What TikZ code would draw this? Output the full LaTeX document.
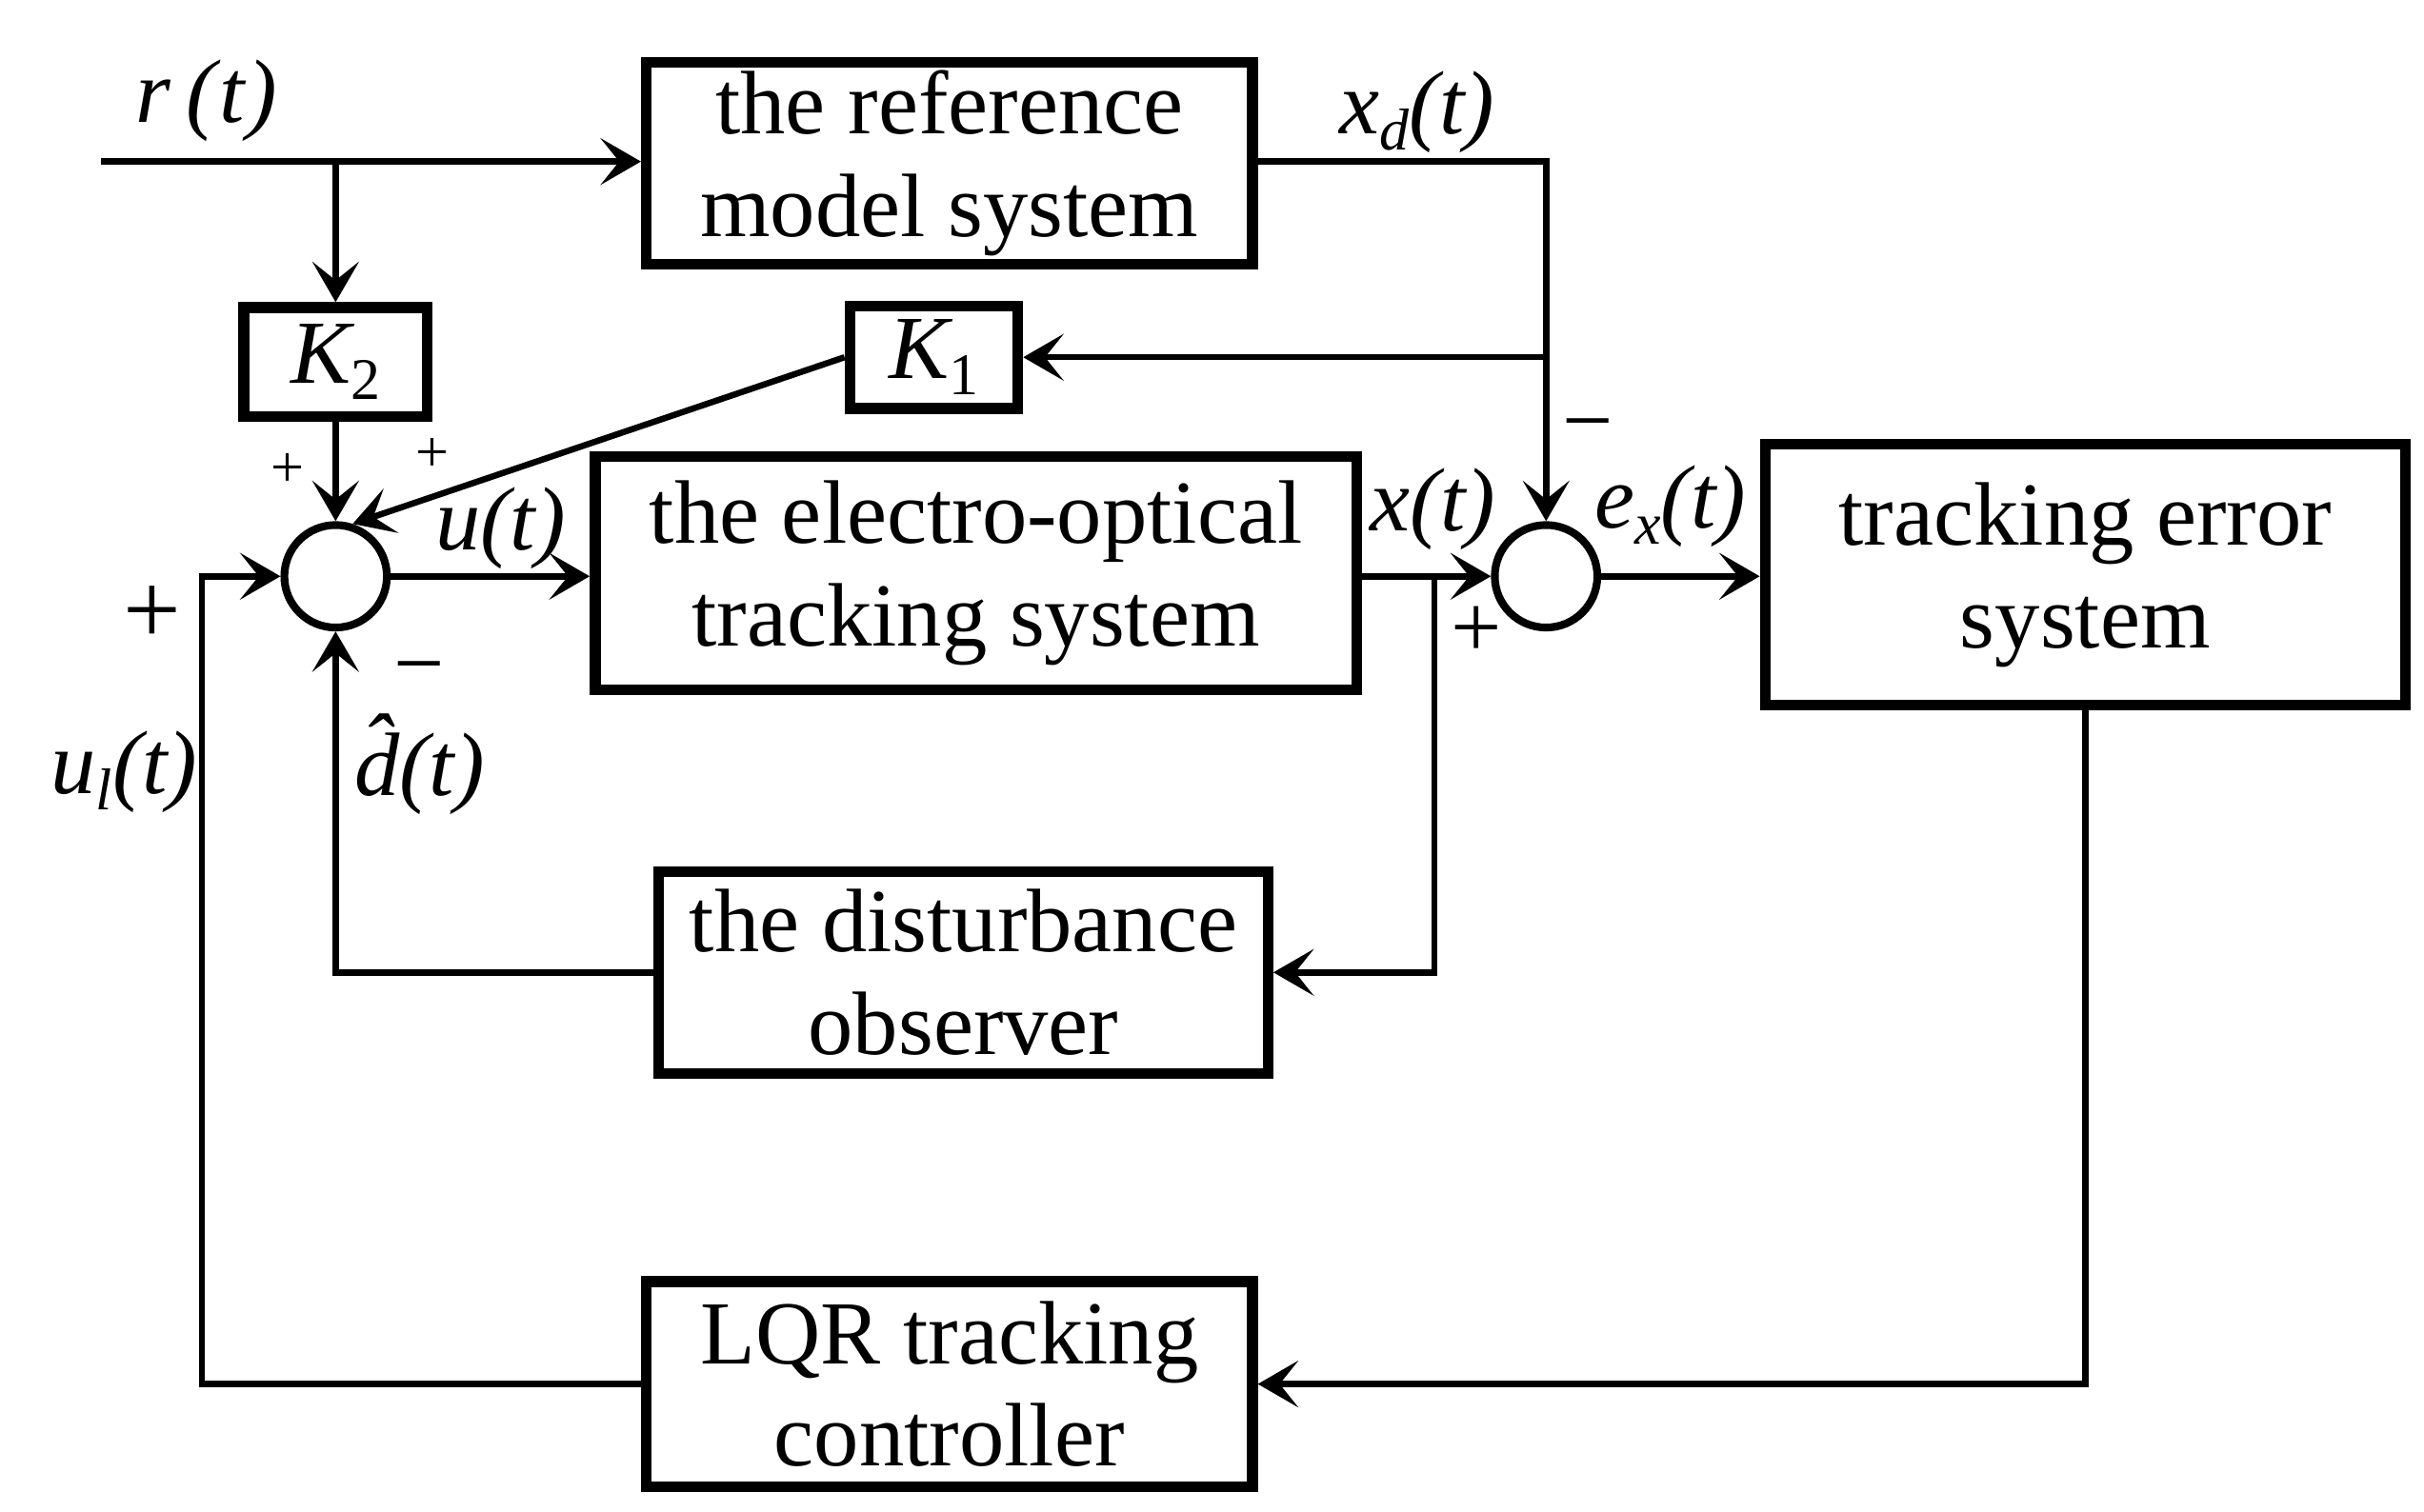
\documentclass[tikz,border=0pt]{standalone}
\usepackage{fontspec}
\setmainfont{Liberation Serif}
\usetikzlibrary{arrows.meta,calc}
\newcommand\lsub[1]{\raisebox{-0.4ex}{\fontsize{19}{19}\selectfont\itshape #1}}
\newcommand\nsub[1]{\raisebox{-0.4ex}{\fontsize{19}{19}\selectfont\upshape #1}}
\begin{document}
\begin{tikzpicture}[x=0.5pt,y=-0.5pt,
  every node/.style={font=\fontsize{29}{33}\selectfont},
  blk/.style={draw,line width=3.5pt,align=center,inner sep=0pt},
  sumc/.style={draw,circle,line width=2.5pt,minimum size=33pt,inner sep=0pt},
  arr/.style={line width=2pt,-{Stealth[length=13pt,width=15pt,inset=6pt]}},
  ln/.style={line width=2pt},
  lbl/.style={inner sep=0pt},
  small/.style={inner sep=0pt,font=\fontsize{19}{19}\selectfont}]
\useasboundingbox (0,0) rectangle (1560,973);

% blocks
\node[blk,minimum width=195pt,minimum height=65pt] (ref) at (611,105) {the reference\\model system};
\node[blk,minimum width=59pt,minimum height=35pt] (K2) at (216,233) {\itshape K\nsub{2}};
\node[blk,minimum width=54pt,minimum height=33pt] (K1) at (601,230) {\itshape K\nsub{1}};
\node[blk,minimum width=245pt,minimum height=75pt] (EO) at (628,369) {the electro-optical\\tracking system};
\node[blk,minimum width=206pt,minimum height=84pt] (TE) at (1342,370) {tracking error\\system};
\node[blk,minimum width=196pt,minimum height=65pt] (DO) at (620,626) {the disturbance\\observer};
\node[blk,minimum width=195pt,minimum height=66pt] (LQR) at (611,891) {LQR tracking\\controller};
\node[sumc] (s1) at (216,371) {};
\node[sumc] (s2) at (995,371) {};

% auxiliary coordinates
\coordinate (rin) at (65,104);
\coordinate (rb) at (216,104);
\coordinate (xb) at (995,230);
\coordinate (xo) at (923,371);
\coordinate (lc) at (130,371);

% connectors
\draw[arr] (rin) -- (rin -| ref.west);
\draw[arr] (rb) -- (K2.north);
\draw[arr] (K2.south) -- (s1.north);
\draw[arr] (K1.west) -- (s1.72);
\draw[arr] (ref.east |- rin) -| (s2.north);
\draw[arr] (xb) -- (K1.east);
\draw[arr] (s1.east) -- (s1.east -| EO.west);
\draw[arr] (EO.east |- s2) -- (s2.west);
\draw[arr] (xo) |- (DO.east);
\draw[arr] (DO.west) -| (s1.south);
\draw[arr] (s2.east) -- (s2.east -| TE.west);
\draw[arr] (TE.south) |- (LQR.east);
\draw[arr] (LQR.west) -| (lc) -- (s1.west);

% labels
\node[lbl] (lr) at (133,65) {\itshape r\,(\kern1pt t\kern1pt)};
\node[lbl] (lxd) at (912,72) {\itshape x\lsub{d}(t)};
\node[lbl] (lm1) at (1022,280) {−};
\node[lbl] (lx) at (922,328) {\itshape x(t)};
\node[lbl] (lp1) at (950,407) {+};
\node[lbl] (lex) at (1075,326) {\itshape e\lsub{x}(t)};
\node[lbl] (lu) at (322,340) {\itshape u(t)};
\node[small] (lp2) at (185,303) {+};
\node[small] (lp3) at (278,293) {+};
\node[lbl,font=\fontsize{33}{33}\selectfont] (lp4) at (98,396) {+};
\node[lbl] (lm2) at (270,436) {−};
\node[lbl] (lul) at (80,497) {\itshape u\lsub{l}(t)};
\node[lbl] (ld) at (270,492) {\itshape \^{d}(t)};
\end{tikzpicture}
\end{document}
